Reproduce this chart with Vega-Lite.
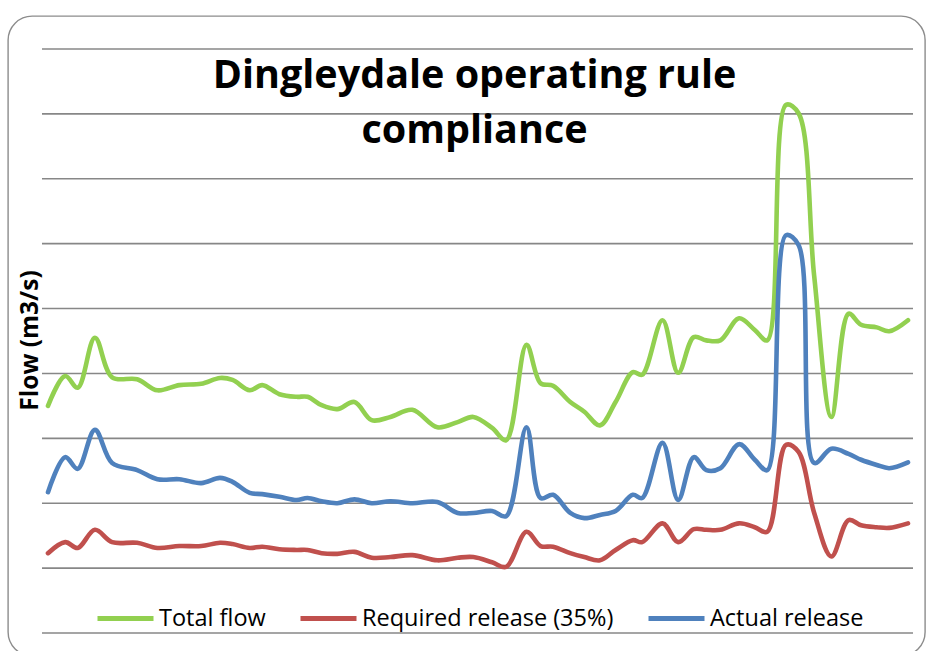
{
  "$schema": "https://vega.github.io/schema/vega-lite/v6.json",
  "width": 917,
  "height": 640,
  "autosize": {"type": "none"},
  "padding": {"left": 8, "top": 16, "right": 8, "bottom": 0},
  "background": "white",
  "title": {
    "text": ["Dingleydale operating rule", "compliance"],
    "anchor": "middle",
    "frame": "group",
    "font": "Open Sans",
    "fontSize": 39.5,
    "fontWeight": "bold",
    "color": "#000000",
    "offset": -166,
    "baseline": "alphabetic",
    "lineHeight": 55,
    "dx": 8
  },
  "datasets": {
    "grid": [{"g": 0}, {"g": 1}, {"g": 2}, {"g": 3}, {"g": 4}, {"g": 5}, {"g": 6}, {"g": 7}, {"g": 8}, {"g": 9}],
    "flows": [
      {"t": 0, "series": "Total flow", "flow": 3.50}, {"t": 0, "series": "Required release (35%)", "flow": 1.23}, {"t": 0, "series": "Actual release", "flow": 2.17},
      {"t": 1.1, "series": "Total flow", "flow": 3.96}, {"t": 1.1, "series": "Required release (35%)", "flow": 1.40}, {"t": 1.1, "series": "Actual release", "flow": 2.71},
      {"t": 1.9, "series": "Total flow", "flow": 3.78}, {"t": 1.9, "series": "Required release (35%)", "flow": 1.31}, {"t": 1.9, "series": "Actual release", "flow": 2.53},
      {"t": 3.0, "series": "Total flow", "flow": 4.55}, {"t": 3.0, "series": "Required release (35%)", "flow": 1.59}, {"t": 3.0, "series": "Actual release", "flow": 3.13},
      {"t": 4.1, "series": "Total flow", "flow": 3.94}, {"t": 4.1, "series": "Required release (35%)", "flow": 1.40}, {"t": 4.1, "series": "Actual release", "flow": 2.62},
      {"t": 5.7, "series": "Total flow", "flow": 3.91}, {"t": 5.7, "series": "Required release (35%)", "flow": 1.39}, {"t": 5.7, "series": "Actual release", "flow": 2.51},
      {"t": 7.0, "series": "Total flow", "flow": 3.74}, {"t": 7.0, "series": "Required release (35%)", "flow": 1.31}, {"t": 7.0, "series": "Actual release", "flow": 2.37},
      {"t": 8.4, "series": "Total flow", "flow": 3.82}, {"t": 8.4, "series": "Required release (35%)", "flow": 1.34}, {"t": 8.4, "series": "Actual release", "flow": 2.37},
      {"t": 9.8, "series": "Total flow", "flow": 3.84}, {"t": 9.8, "series": "Required release (35%)", "flow": 1.34}, {"t": 9.8, "series": "Actual release", "flow": 2.31},
      {"t": 11.0, "series": "Total flow", "flow": 3.93}, {"t": 11.0, "series": "Required release (35%)", "flow": 1.39}, {"t": 11.0, "series": "Actual release", "flow": 2.39},
      {"t": 11.8, "series": "Total flow", "flow": 3.90}, {"t": 11.8, "series": "Required release (35%)", "flow": 1.37}, {"t": 11.8, "series": "Actual release", "flow": 2.33},
      {"t": 12.9, "series": "Total flow", "flow": 3.74}, {"t": 12.9, "series": "Required release (35%)", "flow": 1.31}, {"t": 12.9, "series": "Actual release", "flow": 2.16},
      {"t": 13.7, "series": "Total flow", "flow": 3.82}, {"t": 13.7, "series": "Required release (35%)", "flow": 1.33}, {"t": 13.7, "series": "Actual release", "flow": 2.14},
      {"t": 14.8, "series": "Total flow", "flow": 3.68}, {"t": 14.8, "series": "Required release (35%)", "flow": 1.29}, {"t": 14.8, "series": "Actual release", "flow": 2.10},
      {"t": 15.9, "series": "Total flow", "flow": 3.64}, {"t": 15.9, "series": "Required release (35%)", "flow": 1.28}, {"t": 15.9, "series": "Actual release", "flow": 2.05},
      {"t": 16.6, "series": "Total flow", "flow": 3.64}, {"t": 16.6, "series": "Required release (35%)", "flow": 1.28}, {"t": 16.6, "series": "Actual release", "flow": 2.08},
      {"t": 17.5, "series": "Total flow", "flow": 3.51}, {"t": 17.5, "series": "Required release (35%)", "flow": 1.23}, {"t": 17.5, "series": "Actual release", "flow": 2.03},
      {"t": 18.5, "series": "Total flow", "flow": 3.45}, {"t": 18.5, "series": "Required release (35%)", "flow": 1.22}, {"t": 18.5, "series": "Actual release", "flow": 2.00},
      {"t": 19.6, "series": "Total flow", "flow": 3.56}, {"t": 19.6, "series": "Required release (35%)", "flow": 1.25}, {"t": 19.6, "series": "Actual release", "flow": 2.06},
      {"t": 20.7, "series": "Total flow", "flow": 3.28}, {"t": 20.7, "series": "Required release (35%)", "flow": 1.16}, {"t": 20.7, "series": "Actual release", "flow": 2.00},
      {"t": 21.9, "series": "Total flow", "flow": 3.33}, {"t": 21.9, "series": "Required release (35%)", "flow": 1.17}, {"t": 21.9, "series": "Actual release", "flow": 2.03},
      {"t": 23.3, "series": "Total flow", "flow": 3.44}, {"t": 23.3, "series": "Required release (35%)", "flow": 1.20}, {"t": 23.3, "series": "Actual release", "flow": 2.00},
      {"t": 24.9, "series": "Total flow", "flow": 3.17}, {"t": 24.9, "series": "Required release (35%)", "flow": 1.12}, {"t": 24.9, "series": "Actual release", "flow": 2.02},
      {"t": 26.2, "series": "Total flow", "flow": 3.25}, {"t": 26.2, "series": "Required release (35%)", "flow": 1.16}, {"t": 26.2, "series": "Actual release", "flow": 1.85},
      {"t": 27.2, "series": "Total flow", "flow": 3.33}, {"t": 27.2, "series": "Required release (35%)", "flow": 1.17}, {"t": 27.2, "series": "Actual release", "flow": 1.85},
      {"t": 28.4, "series": "Total flow", "flow": 3.16}, {"t": 28.4, "series": "Required release (35%)", "flow": 1.09}, {"t": 28.4, "series": "Actual release", "flow": 1.88},
      {"t": 29.3, "series": "Total flow", "flow": 2.97}, {"t": 29.3, "series": "Required release (35%)", "flow": 1.02}, {"t": 29.3, "series": "Actual release", "flow": 1.80},
      {"t": 30.6, "series": "Total flow", "flow": 4.44}, {"t": 30.6, "series": "Required release (35%)", "flow": 1.56}, {"t": 30.6, "series": "Actual release", "flow": 3.17},
      {"t": 31.5, "series": "Total flow", "flow": 3.85}, {"t": 31.5, "series": "Required release (35%)", "flow": 1.34}, {"t": 31.5, "series": "Actual release", "flow": 2.08},
      {"t": 32.3, "series": "Total flow", "flow": 3.81}, {"t": 32.3, "series": "Required release (35%)", "flow": 1.33}, {"t": 32.3, "series": "Actual release", "flow": 2.13},
      {"t": 33.4, "series": "Total flow", "flow": 3.56}, {"t": 33.4, "series": "Required release (35%)", "flow": 1.23}, {"t": 33.4, "series": "Actual release", "flow": 1.85},
      {"t": 34.3, "series": "Total flow", "flow": 3.41}, {"t": 34.3, "series": "Required release (35%)", "flow": 1.17}, {"t": 34.3, "series": "Actual release", "flow": 1.77},
      {"t": 35.3, "series": "Total flow", "flow": 3.20}, {"t": 35.3, "series": "Required release (35%)", "flow": 1.12}, {"t": 35.3, "series": "Actual release", "flow": 1.82},
      {"t": 36.3, "series": "Total flow", "flow": 3.56}, {"t": 36.3, "series": "Required release (35%)", "flow": 1.28}, {"t": 36.3, "series": "Actual release", "flow": 1.88},
      {"t": 37.4, "series": "Total flow", "flow": 4.02}, {"t": 37.4, "series": "Required release (35%)", "flow": 1.43}, {"t": 37.4, "series": "Actual release", "flow": 2.13},
      {"t": 38.0, "series": "Total flow", "flow": 3.98}, {"t": 38.0, "series": "Required release (35%)", "flow": 1.40}, {"t": 38.0, "series": "Actual release", "flow": 2.08},
      {"t": 39.3, "series": "Total flow", "flow": 4.82}, {"t": 39.3, "series": "Required release (35%)", "flow": 1.69}, {"t": 39.3, "series": "Actual release", "flow": 2.93},
      {"t": 40.3, "series": "Total flow", "flow": 4.01}, {"t": 40.3, "series": "Required release (35%)", "flow": 1.40}, {"t": 40.3, "series": "Actual release", "flow": 2.05},
      {"t": 41.3, "series": "Total flow", "flow": 4.56}, {"t": 41.3, "series": "Required release (35%)", "flow": 1.60}, {"t": 41.3, "series": "Actual release", "flow": 2.71},
      {"t": 42.1, "series": "Total flow", "flow": 4.51}, {"t": 42.1, "series": "Required release (35%)", "flow": 1.59}, {"t": 42.1, "series": "Actual release", "flow": 2.51},
      {"t": 43.0, "series": "Total flow", "flow": 4.51}, {"t": 43.0, "series": "Required release (35%)", "flow": 1.59}, {"t": 43.0, "series": "Actual release", "flow": 2.54},
      {"t": 44.2, "series": "Total flow", "flow": 4.85}, {"t": 44.2, "series": "Required release (35%)", "flow": 1.69}, {"t": 44.2, "series": "Actual release", "flow": 2.91},
      {"t": 45.2, "series": "Total flow", "flow": 4.67}, {"t": 45.2, "series": "Required release (35%)", "flow": 1.63}, {"t": 45.2, "series": "Actual release", "flow": 2.67},
      {"t": 46.0, "series": "Total flow", "flow": 4.51}, {"t": 46.0, "series": "Required release (35%)", "flow": 1.56}, {"t": 46.0, "series": "Actual release", "flow": 2.51},
      {"t": 47.2, "series": "Total flow", "flow": 8.14}, {"t": 47.2, "series": "Required release (35%)", "flow": 2.90}, {"t": 47.2, "series": "Actual release", "flow": 6.13},
      {"t": 48.0, "series": "Total flow", "flow": 8.01}, {"t": 48.0, "series": "Required release (35%)", "flow": 2.79}, {"t": 48.0, "series": "Actual release", "flow": 5.98},
      {"t": 49.0, "series": "Total flow", "flow": 5.50}, {"t": 49.0, "series": "Required release (35%)", "flow": 1.85}, {"t": 49.0, "series": "Actual release", "flow": 2.62},
      {"t": 50.1, "series": "Total flow", "flow": 3.33}, {"t": 50.1, "series": "Required release (35%)", "flow": 1.18}, {"t": 50.1, "series": "Actual release", "flow": 2.84},
      {"t": 51.2, "series": "Total flow", "flow": 4.92}, {"t": 51.2, "series": "Required release (35%)", "flow": 1.74}, {"t": 51.2, "series": "Actual release", "flow": 2.76},
      {"t": 52.0, "series": "Total flow", "flow": 4.75}, {"t": 52.0, "series": "Required release (35%)", "flow": 1.66}, {"t": 52.0, "series": "Actual release", "flow": 2.67},
      {"t": 53.0, "series": "Total flow", "flow": 4.71}, {"t": 53.0, "series": "Required release (35%)", "flow": 1.63}, {"t": 53.0, "series": "Actual release", "flow": 2.59},
      {"t": 53.8, "series": "Total flow", "flow": 4.65}, {"t": 53.8, "series": "Required release (35%)", "flow": 1.62}, {"t": 53.8, "series": "Actual release", "flow": 2.54},
      {"t": 55.0, "series": "Total flow", "flow": 4.82}, {"t": 55.0, "series": "Required release (35%)", "flow": 1.69}, {"t": 55.0, "series": "Actual release", "flow": 2.63}
    ]
  },
  "layer": [
    {
      "data": {"name": "grid"},
      "mark": {"type": "rule", "stroke": "#878787", "strokeWidth": 1.6},
      "encoding": {
        "y": {
          "field": "g", "type": "quantitative",
          "scale": {"domain": [-0.3545, 9.5086], "nice": false, "zero": false},
          "axis": {"title": "Flow (m3/s)", "labels": false, "ticks": false, "domain": false, "grid": false,
                   "titleFont": "Open Sans", "titleFontSize": 24.5, "titleFontWeight": "bold", "titleColor": "#000000",
                   "titleX": 22, "titleY": 324, "titleAngle": -90, "titleAlign": "center", "titleBaseline": "middle"}
        },
        "x": {"datum": -0.384, "type": "quantitative", "scale": {"domain": [-2.558, 56.087], "nice": false, "zero": false}, "axis": null},
        "x2": {"datum": 55.32}
      }
    },
    {
      "data": {"name": "flows"},
      "mark": {"type": "line", "interpolate": "catmull-rom", "strokeWidth": 4.6, "strokeCap": "round", "strokeJoin": "round"},
      "encoding": {
        "x": {"field": "t", "type": "quantitative", "scale": {"domain": [-2.558, 56.087], "nice": false, "zero": false}, "axis": null},
        "y": {
          "field": "flow", "type": "quantitative",
          "scale": {"domain": [-0.3545, 9.5086], "nice": false, "zero": false},
          "axis": {"title": "Flow (m3/s)", "labels": false, "ticks": false, "domain": false, "grid": false,
                   "titleFont": "Open Sans", "titleFontSize": 24.5, "titleFontWeight": "bold", "titleColor": "#000000",
                   "titleX": 22, "titleY": 324, "titleAngle": -90, "titleAlign": "center", "titleBaseline": "middle"}
        },
        "color": {
          "field": "series", "type": "nominal",
          "scale": {"domain": ["Total flow", "Required release (35%)", "Actual release"], "range": ["#92D050", "#C0504D", "#4F81BD"]},
          "legend": {
            "orient": "none", "legendX": 87, "legendY": 572, "direction": "horizontal", "title": null,
            "symbolType": "stroke", "symbolSize": 3136, "symbolStrokeWidth": 5,
            "labelFont": "Open Sans", "labelFontSize": 23.5, "labelColor": "#000000", "labelOffset": 3,
            "columnPadding": 24, "padding": 0, "labelLimit": 400
          }
        }
      }
    }
  ],
  "config": {
    "view": {"stroke": "#8c8c8c", "strokeWidth": 1.4, "cornerRadius": 24, "fill": "white"}
  }
}
